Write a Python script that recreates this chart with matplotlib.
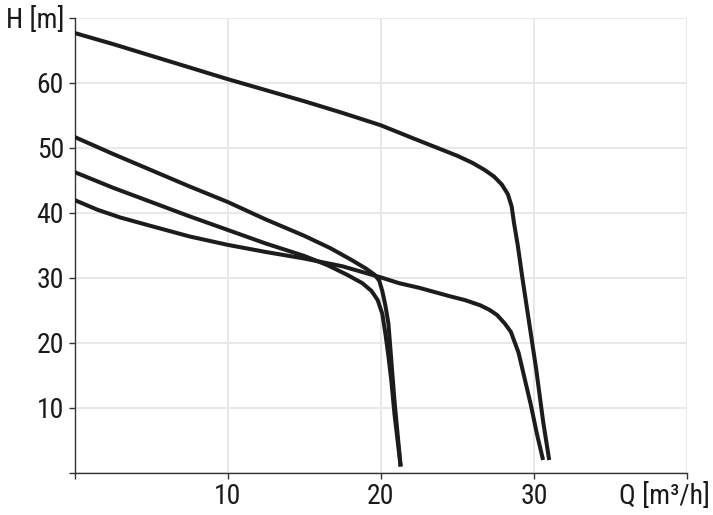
import matplotlib
matplotlib.use("Agg")
import matplotlib.pyplot as plt
from matplotlib import font_manager

# Pump curves (Q [m3/h], H [m])
qA = [0, 2.5, 5, 7.5, 10, 12.5, 15, 17.5, 20, 22, 23.5, 25, 26, 26.8, 27.4, 27.9, 28.3, 28.55,
      28.7, 28.95, 29.25, 29.7, 30.15, 30.6, 31.0]
hA = [67.7, 66.0, 64.2, 62.4, 60.6, 58.9, 57.2, 55.4, 53.5, 51.6, 50.2, 48.8, 47.7, 46.6, 45.6,
      44.4, 42.9, 41.0, 38.5, 35.0, 30.0, 23.0, 16.0, 8.0, 2.0]

qB = [0, 2.5, 5, 7.5, 10, 12.5, 15, 16.7, 18, 19, 19.6, 19.9, 20.1, 20.3, 20.5, 20.7, 20.9, 21.1, 21.3]
hB = [51.7, 49.1, 46.6, 44.1, 41.7, 39.0, 36.5, 34.6, 32.9, 31.5, 30.5, 29.6, 28.0, 25.8, 23.0,
      17.0, 11.0, 6.0, 1.0]

qC = [0, 2.5, 5, 7.5, 10, 12.5, 15, 16.5, 17.8, 18.8, 19.4, 19.8, 20.1, 20.3, 20.5, 20.7, 20.9, 21.1, 21.3]
hC = [46.3, 43.9, 41.7, 39.5, 37.4, 35.3, 33.4, 32.0, 30.5, 29.2, 28.0, 26.6, 24.5, 21.5, 18.0,
      14.0, 9.0, 5.0, 1.0]

qD = [0, 1.5, 3, 5, 7.5, 10, 12.5, 15, 17.5, 20, 21.2, 22.5, 24.5, 25.5, 26.5, 27.1, 27.6, 28.1,
      28.5, 29.0, 29.4, 29.8, 30.2, 30.6]
hD = [42.0, 40.5, 39.3, 38.0, 36.4, 35.1, 34.0, 33.0, 31.8, 30.1, 29.2, 28.5, 27.2, 26.6, 25.8,
      25.1, 24.3, 23.0, 21.7, 18.5, 14.5, 10.5, 6.0, 2.0]

xticks = [0, 10, 20, 30, 40]
xticklabels = ["", "10", "20", "30", ""]
yticks = [0, 10, 20, 30, 40, 50, 60, 70]
yticklabels = ["", "10", "20", "30", "40", "50", "60", "H [m]"]
xlabel = "Q [m³/h]"

available = {f.name for f in font_manager.fontManager.ttflist}
preferred = [f for f in ["Roboto Condensed", "Liberation Sans Narrow", "DejaVu Sans Condensed", "Roboto"]
             if f in available]
plt.rcParams['font.family'] = preferred[:1] + ['DejaVu Sans']
fs = 20 if preferred and preferred[0] != "Roboto" else 19.5

fig = plt.figure(figsize=(7.13, 5.15), dpi=100)
ax = fig.add_axes([74.5 / 713, 1 - 473 / 515, (687 - 74.5) / 713, (473 - 18) / 515])

line_color = "#1c1c1c"
for q, h in [(qA, hA), (qB, hB), (qC, hC), (qD, hD)]:
    ax.plot(q, h, color=line_color, lw=2.9, solid_capstyle='butt', solid_joinstyle='round', zorder=3)

ax.set_xlim(0, 40)
ax.set_ylim(0, 70)
ax.set_xticks(xticks)
ax.set_xticklabels(xticklabels)
ax.set_yticks(yticks)
ax.set_yticklabels(yticklabels)
ax.grid(True, color="#e8e8e8", lw=1.4, zorder=0)
ax.set_axisbelow(True)
for s in ["top", "right"]:
    ax.spines[s].set_visible(False)
for s in ["left", "bottom"]:
    ax.spines[s].set_color("#333333")
    ax.spines[s].set_linewidth(1.0)
ax.tick_params(axis='both', labelsize=fs, colors="#333333", labelcolor="#1a1a1a",
               length=4.5, width=1.0, pad=3)

fig.text(710 / 713, 1 - 496 / 515, xlabel, ha='right', va='center', fontsize=fs, color="#1a1a1a")

fig.savefig("out.png", dpi=100)
